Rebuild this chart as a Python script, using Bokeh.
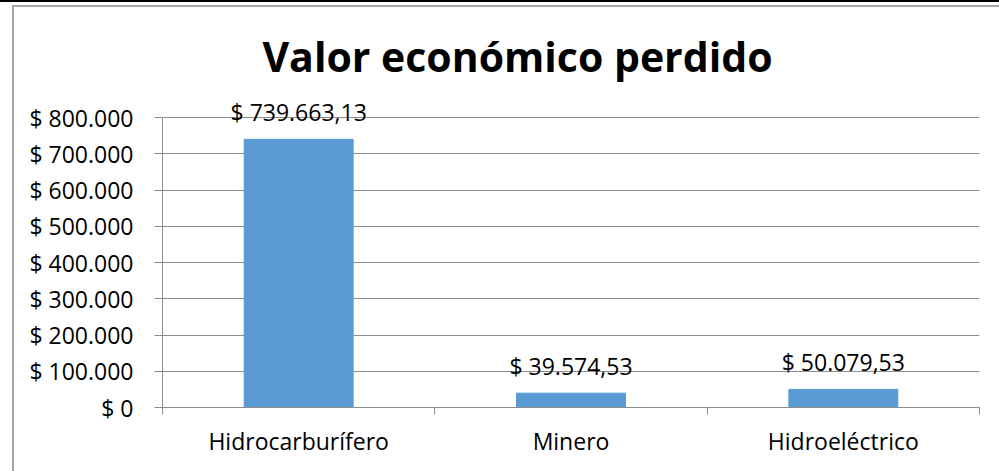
from bokeh.plotting import figure
from bokeh.layouts import column
from bokeh.models import Range1d, FixedTicker, ColumnDataSource, LabelSet, Label
from bokeh.core.properties import value
from bokeh.embed import file_html
from bokeh.resources import INLINE

categories = ["Hidrocarburífero", "Minero", "Hidroeléctrico"]
values = [739663.13, 39574.53, 50079.53]
y_ticks = [0, 100000, 200000, 300000, 400000, 500000, 600000, 700000, 800000]
y_tick_labels = ["$ 0", "$ 100.000", "$ 200.000", "$ 300.000", "$ 400.000",
                 "$ 500.000", "$ 600.000", "$ 700.000", "$ 800.000"]
title_text = "Valor económico perdido"


def fmt_money(v):
    s = f"{v:,.2f}"
    s = s.replace(",", "X").replace(".", ",").replace("X", ".")
    return "$ " + s


FONT = "Open Sans"
GRID = "#8c8c8c"
PAGE_W, PAGE_H = 999, 471
OX, OY = 14, 7                     # figure offset inside the bordered chart box
FW, FH = PAGE_W - OX, PAGE_H - OY
PLOT_L, PLOT_R, PLOT_B = 162, 979, 407   # page px of plot area
AXIS_MAX = 800000
AXIS_PX = 290                      # page px height of 0..800.000

LEFT = PLOT_L - OX
RIGHT = PAGE_W - PLOT_R
BOTTOM = PAGE_H - PLOT_B
frame_h = FH - BOTTOM
y_end = AXIS_MAX * frame_h / AXIS_PX
ncat = len(categories)


def px_to_x(px):
    return (px - PLOT_L) * ncat / (PLOT_R - PLOT_L)


def px_to_y(py):
    return (PLOT_B - py) * y_end / frame_h


xs = [i + 0.5 for i in range(ncat)]
src = ColumnDataSource(dict(x=xs, top=values, label=[fmt_money(v) for v in values]))

p = figure(width=FW, height=FH, output_backend="svg", toolbar_location=None,
           x_range=Range1d(0, ncat), y_range=Range1d(0, y_end),
           min_border_left=LEFT, min_border_right=RIGHT, min_border_top=0, min_border_bottom=BOTTOM)
p.outline_line_color = None
p.background_fill_color = "white"
p.border_fill_color = "white"

title = Label(x=px_to_x(517), y=px_to_y(55), text=title_text, text_align="center",
              text_baseline="alphabetic", text_font=FONT, text_font_style="bold",
              text_font_size="41px", text_color="black")
p.add_layout(title)

p.vbar(x="x", top="top", width=0.4, source=src, color="#5b9bd5")

labels = LabelSet(x="x", y="top", text="label", source=src, y_offset=18,
                  text_align="center", text_baseline="alphabetic",
                  text_font=value(FONT), text_font_size=value("23px"), text_color="black")
p.add_layout(labels)

# y axis
p.yaxis.ticker = FixedTicker(ticks=y_ticks)
p.yaxis.bounds = (0, AXIS_MAX)
p.yaxis.major_label_overrides = {t: l for t, l in zip(y_ticks, y_tick_labels)}
p.yaxis.major_label_text_font = FONT
p.yaxis.major_label_text_font_size = "23px"
p.yaxis.major_label_text_color = "black"
p.yaxis.axis_line_color = GRID
p.yaxis.major_tick_line_color = GRID
p.yaxis.major_tick_out = 8
p.yaxis.major_tick_in = 0
p.yaxis.minor_tick_line_color = None
p.yaxis.major_label_standoff = 21

# x axis
p.xaxis.ticker = FixedTicker(ticks=xs, minor_ticks=list(range(ncat + 1)))
p.xaxis.major_label_overrides = {x: c for x, c in zip(xs, categories)}
p.xaxis.major_label_text_font = FONT
p.xaxis.major_label_text_font_size = "23px"
p.xaxis.major_label_text_color = "black"
p.xaxis.axis_line_color = GRID
p.xaxis.major_tick_line_color = None
p.xaxis.major_tick_out = 0
p.xaxis.major_tick_in = 0
p.xaxis.minor_tick_line_color = GRID
p.xaxis.minor_tick_out = 7
p.xaxis.minor_tick_in = 0
p.xaxis.major_label_standoff = 10

p.xgrid.visible = False
p.ygrid.grid_line_color = GRID
p.ygrid.grid_line_width = 1

inner = column(p, styles={"border-left": "2px solid #a6a6a6",
                          "border-top": "2px solid #a6a6a6",
                          "background-color": "white"})
inner.margin = (3, 0, 0, 12)
page = column(inner, styles={"border-top": "2px solid #000", "background-color": "white"})

open("out.html", "w").write(file_html(page, INLINE))
